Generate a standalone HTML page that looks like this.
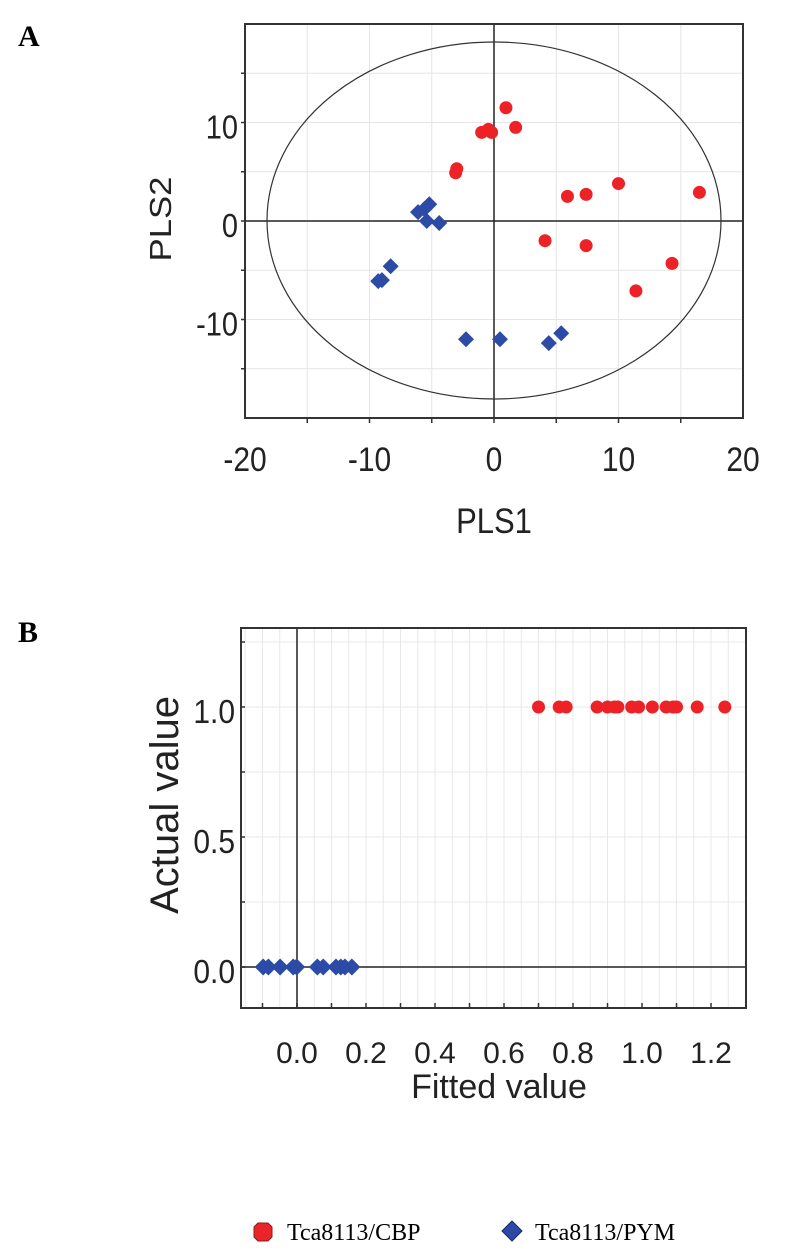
<!DOCTYPE html>
<html><head><meta charset="utf-8"><style>
html,body{margin:0;padding:0;background:#fff;}
svg{display:block;}
</style></head><body>
<svg id="fig" width="791" height="1256" viewBox="0 0 791 1256" xmlns="http://www.w3.org/2000/svg">
<text x="18" y="46" font-family="Liberation Serif, serif" font-weight="bold" font-size="30">A</text>
<text x="18" y="642" font-family="Liberation Serif, serif" font-weight="bold" font-size="30">B</text>
<g id="pa"></g>
<g id="pb"></g>
<g>
<g>
<polygon points="258,1223 268,1223 272,1227 272,1237 268,1241 258,1241 254,1237 254,1227" fill="#e8262a" stroke="#8a1a1a" stroke-width="1"/>
<text x="287" y="1240" font-family="Liberation Serif, serif" font-size="24">Tca8113/CBP</text>
</g>
<g>
<polygon points="512,1221 522,1231 512,1241 502,1231" fill="#2a4aa8" stroke="#1a2a60" stroke-width="1"/>
<text x="535" y="1240" font-family="Liberation Serif, serif" font-size="24">Tca8113/PYM</text>
</g>
</g>
</svg>
<script>
// Panel A data (PLS1, PLS2)
const aRedX = [0.96, 1.74, -0.99, -0.45, -0.19, -2.99, -3.08, 5.9, 7.4, 10.0, 16.5, 4.1, 7.4, 14.3, 11.4];
const aRedY = [11.5, 9.5, 9.0, 9.3, 9.0, 5.3, 4.9, 2.5, 2.7, 3.8, 2.9, -2.0, -2.5, -4.3, -7.1];
const aBlueX = [-5.2, -6.1, -5.4, -4.4, -5.6, -8.3, -9.3, -9.0, -2.25, 0.48, 4.4, 5.4];
const aBlueY = [1.7, 0.9, 0.0, -0.2, 1.2, -4.6, -6.1, -6.0, -12.0, -12.0, -12.4, -11.4];
const aXTicks = [-20, -10, 0, 10, 20];
const aYTicks = [10, 0, -10];
// Panel B data (fitted, actual)
const bRedX = [0.70, 0.76, 0.78, 0.87, 0.90, 0.92, 0.93, 0.97, 0.99, 1.03, 1.07, 1.09, 1.10, 1.16, 1.24];
const bRedY = [1,1,1,1,1,1,1,1,1,1,1,1,1,1,1];
const bBlueX = [-0.098, -0.083, -0.049, -0.011, -0.001, 0.059, 0.076, 0.113, 0.127, 0.139, 0.159];
const bBlueY = [0,0,0,0,0,0,0,0,0,0,0];
const bXTicks = ["0.0","0.2","0.4","0.6","0.8","1.0","1.2"];
const bYTicks = ["1.0","0.5","0.0"];

const NS = "http://www.w3.org/2000/svg";
function mk(parent, tag, attrs){const e=document.createElementNS(NS,tag);for(const k in attrs)e.setAttribute(k,attrs[k]);parent.appendChild(e);return e;}
const FONT = "Liberation Sans, sans-serif";

function circle(g,cx,cy,r){const c=mk(g,'circle',{cx:cx,cy:cy,r:r,fill:'#ec2227'});

}
function diamond(g,cx,cy,r){const p=mk(g,'polygon',{points:`${cx},${cy-r} ${cx+r},${cy} ${cx},${cy+r} ${cx-r},${cy}`,fill:'#2b4ba6'});

}

// ---- Panel A ----
(function(){
const g=document.getElementById('pa');
const L=245,R=743,T=24,B=418;
const xmin=-20,xmax=20,ymin=-20,ymax=20;
const sx=v=>L+(v-xmin)/(xmax-xmin)*(R-L);
const sy=v=>B-(v-ymin)/(ymax-ymin)*(B-T);
for(let v=-15;v<=15;v+=5){mk(g,'line',{x1:sx(v),x2:sx(v),y1:T,y2:B,stroke:'#e6e6e6','stroke-width':1});
 mk(g,'line',{x1:L,x2:R,y1:sy(v),y2:sy(v),stroke:'#e6e6e6','stroke-width':1});
 mk(g,'line',{x1:sx(v),x2:sx(v),y1:B,y2:B+5,stroke:'#333','stroke-width':1.5});
 mk(g,'line',{x1:L-4,x2:L,y1:sy(v),y2:sy(v),stroke:'#333','stroke-width':1.5});}
mk(g,'line',{x1:sx(0),x2:sx(0),y1:T,y2:B,stroke:'#222','stroke-width':1.5});
mk(g,'line',{x1:L,x2:R,y1:sy(0),y2:sy(0),stroke:'#222','stroke-width':1.5});
const el=mk(g,'ellipse',{cx:sx(0),cy:220.5,rx:227,ry:178.5,fill:'none',stroke:'#333','stroke-width':1.2});


const fr=mk(g,'rect',{x:L,y:T,width:R-L,height:B-T,fill:'none',stroke:'#333','stroke-width':2});


aXTicks.forEach(v=>{const t=mk(g,'text',{x:0,y:0,'text-anchor':'middle','font-family':FONT,'font-size':30,fill:'#222',transform:`translate(${sx(v)},471) scale(1,1.15)`});t.textContent=v;

});
aYTicks.forEach(v=>{const t=mk(g,'text',{x:0,y:0,'text-anchor':'end','font-family':FONT,'font-size':29,fill:'#222',transform:`translate(238,${sy(v)+16}) scale(1,1.15)`});t.textContent=v;

});
const xt=mk(g,'text',{x:0,y:0,'text-anchor':'middle','font-family':FONT,'font-size':31,fill:'#222',transform:`translate(${sx(0)},533) scale(1,1.15)`});xt.textContent='PLS1';


const yt=mk(g,'text',{x:0,y:0,'text-anchor':'middle','font-family':FONT,'font-size':31,fill:'#222',transform:'translate(171,219) rotate(-90) scale(1.12,1)'});yt.textContent='PLS2';


aRedX.forEach((x,i)=>circle(g,sx(x),sy(aRedY[i]),6.5));
aBlueX.forEach((x,i)=>diamond(g,sx(x),sy(aBlueY[i]),8));
})();

// ---- Panel B ----
(function(){
const g=document.getElementById('pb');
const L=241,R=746,T=628,B=1008;
const xmin=-0.1623,xmax=1.3014,ymin=-0.1577,ymax=1.3038;
const sx=v=>L+(v-xmin)/(xmax-xmin)*(R-L);
const sy=v=>B-(v-ymin)/(ymax-ymin)*(B-T);
for(let i=-3;i<=25;i++){const v=i*0.05;const x=sx(v);if(x<=L+1||x>=R-1)continue;
 mk(g,'line',{x1:x,x2:x,y1:T,y2:B,stroke:'#e8e8e8','stroke-width':1});}
for(let i=-1;i<=13;i++){const v=i*0.1;const x=sx(v);if(x<=L+1||x>=R-1)continue;
 mk(g,'line',{x1:x,x2:x,y1:B-5,y2:B,stroke:'#333','stroke-width':1.5});}
for(let i=0;i<=5;i++){const v=i*0.25;mk(g,'line',{x1:L,x2:R,y1:sy(v),y2:sy(v),stroke:'#e8e8e8','stroke-width':1});
 mk(g,'line',{x1:L,x2:L+4,y1:sy(v),y2:sy(v),stroke:'#333','stroke-width':1.5});}
mk(g,'line',{x1:sx(0),x2:sx(0),y1:T,y2:B,stroke:'#222','stroke-width':1.5});
mk(g,'line',{x1:L,x2:R,y1:sy(0),y2:sy(0),stroke:'#222','stroke-width':1.5});
const fr=mk(g,'rect',{x:L,y:T,width:R-L,height:B-T,fill:'none',stroke:'#333','stroke-width':2});


bXTicks.forEach(s=>{const t=mk(g,'text',{x:sx(parseFloat(s)),y:1063,'text-anchor':'middle','font-family':FONT,'font-size':30,fill:'#222'});t.textContent=s;

});
bYTicks.forEach(s=>{const t=mk(g,'text',{x:0,y:0,'text-anchor':'end','font-family':FONT,'font-size':30,fill:'#222',transform:`translate(235,${sy(parseFloat(s))+16}) scale(1,1.1)`});t.textContent=s;

});
const xt=mk(g,'text',{x:499,y:1098,'text-anchor':'middle','font-family':FONT,'font-size':34,fill:'#222'});xt.textContent='Fitted value';


const yt=mk(g,'text',{x:0,y:0,'text-anchor':'middle','font-family':FONT,'font-size':40,fill:'#222',transform:'translate(178,805) rotate(-90)'});yt.textContent='Actual value';


bRedX.forEach((x,i)=>circle(g,sx(x),sy(bRedY[i]),6.5));
bBlueX.forEach((x,i)=>diamond(g,sx(x),sy(bBlueY[i]),8.5));
})();
</script>
</body></html>
